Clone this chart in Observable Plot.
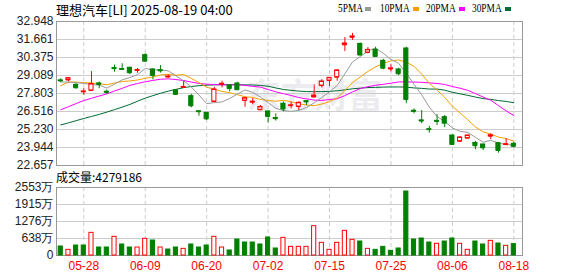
<!DOCTYPE html>
<html><head><meta charset="utf-8">
<script src="https://cdn.jsdelivr.net/npm/d3@7"></script>
<script src="https://cdn.jsdelivr.net/npm/@observablehq/plot@0.6"></script>
<style>
body{margin:0;background:#fff;}
#wrap{position:relative;width:578px;height:276px;overflow:hidden;background:#fff;font-family:"Liberation Sans",Arial,sans-serif;}
.t{position:absolute;white-space:nowrap;}
#title{left:56px;top:3px;font-size:13px;line-height:14px;color:#000;font-family:"Noto Sans CJK SC","Liberation Sans",sans-serif;}
#vtitle{left:56px;top:170px;font-size:12px;line-height:13px;color:#000;font-family:"Noto Sans CJK SC","Liberation Sans",sans-serif;}
.lg{top:2px;font-size:12px;line-height:12px;color:#000;font-family:"Liberation Serif",serif;transform:scaleX(0.78);transform-origin:0 0;}
.sq{position:absolute;top:7px;width:6px;height:4px;}
svg{position:absolute;left:0;}
</style></head>
<body><div id="wrap">
<div class="t" id="title">理想汽车[LI] 2025-08-19 04:00</div>
<div class="t lg" style="left:338px">5PMA</div><div class="sq" style="left:365px;background:#999"></div>
<div class="t lg" style="left:380px">10PMA</div><div class="sq" style="left:413px;background:#f5a000"></div>
<div class="t lg" style="left:426px">20PMA</div><div class="sq" style="left:459px;background:#ff00ff"></div>
<div class="t lg" style="left:472px">30PMA</div><div class="sq" style="left:505px;background:#006b33"></div>
<div class="t" id="vtitle">成交量:4279186</div>
</div>
<script>
const dates = ["05-22","05-23","05-27","05-28","05-29","05-30","06-02","06-03","06-04","06-05","06-06","06-09","06-10","06-11","06-12","06-13","06-16","06-17","06-18","06-20","06-23","06-24","06-25","06-26","06-27","06-30","07-01","07-02","07-03","07-07","07-08","07-09","07-10","07-11","07-14","07-15","07-16","07-17","07-18","07-21","07-22","07-23","07-24","07-25","07-28","07-29","07-30","07-31","08-01","08-04","08-05","08-06","08-07","08-08","08-11","08-12","08-13","08-14","08-15","08-18"];
const xTickLabels = ["05-28","06-09","06-20","07-02","07-15","07-25","08-06","08-18"];
const priceTicks = [32.948,31.661,30.375,29.089,27.803,26.516,25.230,23.944,22.657];
const volTicks = [0,638,1276,1915,2553];

const open  = [28.74,28.77,28.42,27.92,28.02,28.52,27.93,29.62,29.55,29.64, 29.45,30.54,29.52,29.47,28.98,28.02,28.24,27.61,26.53,26.42, 27.23,28.47,28.38,28.52,27.30,27.18,26.64,26.52,26.05,27.07, 26.93,26.87,27.25,27.55,28.37,28.73,28.97,31.28,31.82,31.35, 30.73,30.93,30.14,29.55,29.52,31.02,26.57,25.88,25.25,25.85, 26.11,24.80,24.39,24.61,24.27,24.16,24.75,24.25,24.15,24.21];
const high  = [28.85,28.93,28.50,28.15,29.37,28.63,28.05,29.83,29.93,29.68, 29.60,30.64,29.58,29.80,29.13,28.05,28.68,27.73,26.55,26.45, 28.25,28.68,28.45,28.61,27.52,27.45,26.95,26.55,26.35,27.20, 27.18,27.20,27.30,28.42,28.80,28.95,29.50,31.80,32.10,31.40, 31.08,31.11,30.25,29.85,29.60,31.11,26.70,26.58,25.45,26.30, 26.23,24.85,24.72,24.85,24.39,24.16,24.92,24.28,24.57,24.30];
const low   = [28.60,28.65,28.12,27.68,27.96,28.15,27.72,29.33,29.50,29.16, 29.25,30.05,28.78,29.26,28.90,27.68,28.22,26.78,26.18,25.87, 27.15,28.20,27.92,28.03,26.82,27.00,26.62,25.70,25.83,26.50, 26.70,26.59,26.95,27.50,28.20,28.30,28.68,30.80,31.60,30.50, 30.65,30.40,29.50,29.35,29.08,27.07,26.35,25.64,24.97,25.52, 25.37,24.10,24.32,24.58,23.78,23.73,24.50,23.54,24.13,23.93];
const close = [28.70,28.90,28.21,27.95,28.48,28.45,27.88,29.58,29.52,29.28, 29.48,30.11,29.09,29.42,29.02,27.73,28.27,26.92,26.50,25.99, 28.09,28.50,28.15,28.07,27.47,27.22,26.84,26.16,26.00,26.69, 26.96,27.14,27.20,27.66,28.66,28.92,29.45,31.38,31.88,30.55, 30.92,30.45,29.61,29.60,29.21,27.37,26.52,25.83,25.22,25.80, 25.68,24.16,24.66,24.80,24.07,23.92,24.82,23.73,24.18,24.02];
const volume = [338,213,375,375,851,300,300,701,413,300, 300,626,563,300,225,300,250,413,300,375, 701,300,188,600,488,488,413,676,263,663, 325,325,325,1101,475,213,475,926,588,525, 250,213,325,175,263,2402,600,638,488,438, 525,638,438,213,525,413,550,450,363,428];

const ma5  = [28.62,28.62,28.58,28.52,28.45,28.40,28.19,28.47,28.78,28.94, 29.15,29.59,29.50,29.48,29.42,29.07,28.71,28.27,27.69,27.08, 27.15,27.20,27.45,27.76,28.06,27.88,27.55,27.15,26.74,26.58, 26.53,26.59,26.80,27.13,27.52,27.92,28.38,29.21,30.06,30.44, 30.84,31.04,30.68,30.23,29.96,29.25,28.46,27.71,26.83,26.15, 25.81,25.34,25.10,25.02,24.67,24.32,24.45,24.27,24.14,24.13];
const ma10 = [28.36,28.62,28.62,28.58,28.56,28.50,28.43,28.55,28.66,28.70, 28.77,28.89,28.98,29.13,29.18,29.11,29.15,28.88,28.58,28.25, 28.11,27.95,27.86,27.72,27.57,27.52,27.38,27.30,27.25,27.32, 27.21,27.07,26.98,26.93,27.05,27.22,27.48,28.01,28.59,28.98, 29.38,29.71,29.95,30.14,30.20,30.04,29.75,29.19,28.53,28.05, 27.53,26.90,26.41,25.93,25.41,25.07,24.90,24.69,24.58,24.40];
const ma20 = [26.64,26.86,27.08,27.30,27.46,27.62,27.78,27.98,28.17,28.38, 28.52,28.64,28.74,28.82,28.85,28.80,28.73,28.62,28.52,28.47, 28.44,28.42,28.42,28.43,28.38,28.31,28.26,28.09,27.92,27.79, 27.66,27.51,27.42,27.33,27.31,27.37,27.43,27.65,27.92,28.15, 28.29,28.39,28.46,28.54,28.63,28.63,28.62,28.60,28.56,28.52, 28.45,28.30,28.18,28.03,27.80,27.55,27.32,26.94,26.56,26.23];
const ma30 = [25.56,25.70,25.86,26.02,26.16,26.31,26.47,26.65,26.83,27.02, 27.25,27.47,27.65,27.82,27.97,28.10,28.22,28.30,28.36,28.40, 28.42,28.43,28.43,28.43,28.42,28.41,28.38,28.32,28.20,28.09, 28.03,27.97,27.94,27.93,27.94,27.95,28.00,28.06,28.14,28.18, 28.23,28.24,28.26,28.27,28.27,28.26,28.20,28.17,28.12,28.12, 28.04,27.89,27.78,27.67,27.55,27.44,27.38,27.30,27.23,27.15];

const RED = "#ff0000", GREEN = "#008000";
const MA_COLORS = {ma5:"#999999", ma10:"#f5a000", ma20:"#ff00ff", ma30:"#006b33"};
const N = dates.length;
const idx = d3.range(N);
const candles = idx.map(i => ({i, o:open[i], h:high[i], l:low[i], c:close[i], up: close[i] >= open[i]}));
const vols = idx.map(i => ({i, v:volume[i], up: i === 0 ? close[i] >= open[i] : close[i] >= close[i-1]}));
const tickIdx = xTickLabels.map(t => dates.indexOf(t));
const xDomain = [-0.555, 60.13];
const bw = 0.27;

const maLine = (arr, key) => Plot.line(arr.map((v, i) => ({i, v})), {x:"i", y:"v", stroke: MA_COLORS[key], strokeWidth:1});

const main = Plot.plot({
  width:578, height:176, marginTop:21, marginBottom:11, marginLeft:56, marginRight:56,
  style:{background:"transparent", fontFamily:"Liberation Sans, Arial, sans-serif", fontSize:"12px", color:"#222"},
  x:{domain:xDomain, axis:null},
  y:{domain:[22.657, 32.948], axis:null},
  marks:[
    Plot.text(["东方财富"], {frameAnchor:"top-left", dx:190, dy:76, fontSize:34, fontWeight:"bold", fill:"#ececf0", textAnchor:"start", lineAnchor:"middle", fontFamily:"Noto Sans CJK SC"}),
    Plot.ruleY(priceTicks.slice(1, -1), {stroke:"#cccccc"}),
    Plot.ruleX(tickIdx, {stroke:"#cccccc", strokeDasharray:"4,3"}),
    Plot.frame({stroke:"#999999"}),
    Plot.axisY({ticks:priceTicks, tickSize:0, tickPadding:3, tickFormat:d => d.toFixed(3), label:null, fontSize:12}),
    maLine(ma30, "ma30"), maLine(ma20, "ma20"), maLine(ma10, "ma10"), maLine(ma5, "ma5"),
    Plot.ruleX(candles, {x:"i", y1:"l", y2:"h", stroke:d => d.up ? RED : GREEN}),
    Plot.rect(candles, {x1:d => d.i - bw, x2:d => d.i + bw, y1:"o", y2:"c", fill:d => d.up ? "#ffffff" : GREEN, stroke:d => d.up ? RED : GREEN}),
    Plot.ruleY(candles, {x1:d => d.i - bw, x2:d => d.i + bw, y:"o", stroke:d => d.up ? RED : GREEN}),
    Plot.ruleY(candles, {x1:d => d.i - bw, x2:d => d.i + bw, y:"c", stroke:d => d.up ? RED : GREEN})
  ]
});
main.style.top = "0px";

const vol = Plot.plot({
  width:578, height:106, marginTop:17, marginBottom:21, marginLeft:56, marginRight:56,
  style:{background:"transparent", fontFamily:"Liberation Sans, Arial, sans-serif", fontSize:"12px", color:"#222"},
  x:{domain:xDomain, axis:null},
  y:{domain:[0, 2553], axis:null},
  marks:[
    Plot.ruleY(volTicks.slice(1, -1), {stroke:"#cccccc"}),
    Plot.ruleX(tickIdx, {stroke:"#cccccc", strokeDasharray:"4,3"}),
    Plot.frame({stroke:"#999999"}),
    Plot.axisY({ticks:volTicks, tickSize:0, tickPadding:3, tickFormat:d => d === 0 ? "0" : d + "万", label:null, fontSize:12}),
    Plot.axisX({ticks:tickIdx, tickSize:0, tickPadding:6, tickFormat:i => dates[i], label:null, fill:RED, fontSize:12}),
    Plot.rect(vols, {x1:d => d.i - bw, x2:d => d.i + bw, y1:0, y2:"v", fill:d => d.up ? "#ffffff" : GREEN, stroke:d => d.up ? RED : GREEN})
  ]
});
vol.style.top = "170px";

const wrap = document.getElementById("wrap");
wrap.insertBefore(main, wrap.firstChild);
wrap.insertBefore(vol, wrap.firstChild);
</script>
</body></html>
